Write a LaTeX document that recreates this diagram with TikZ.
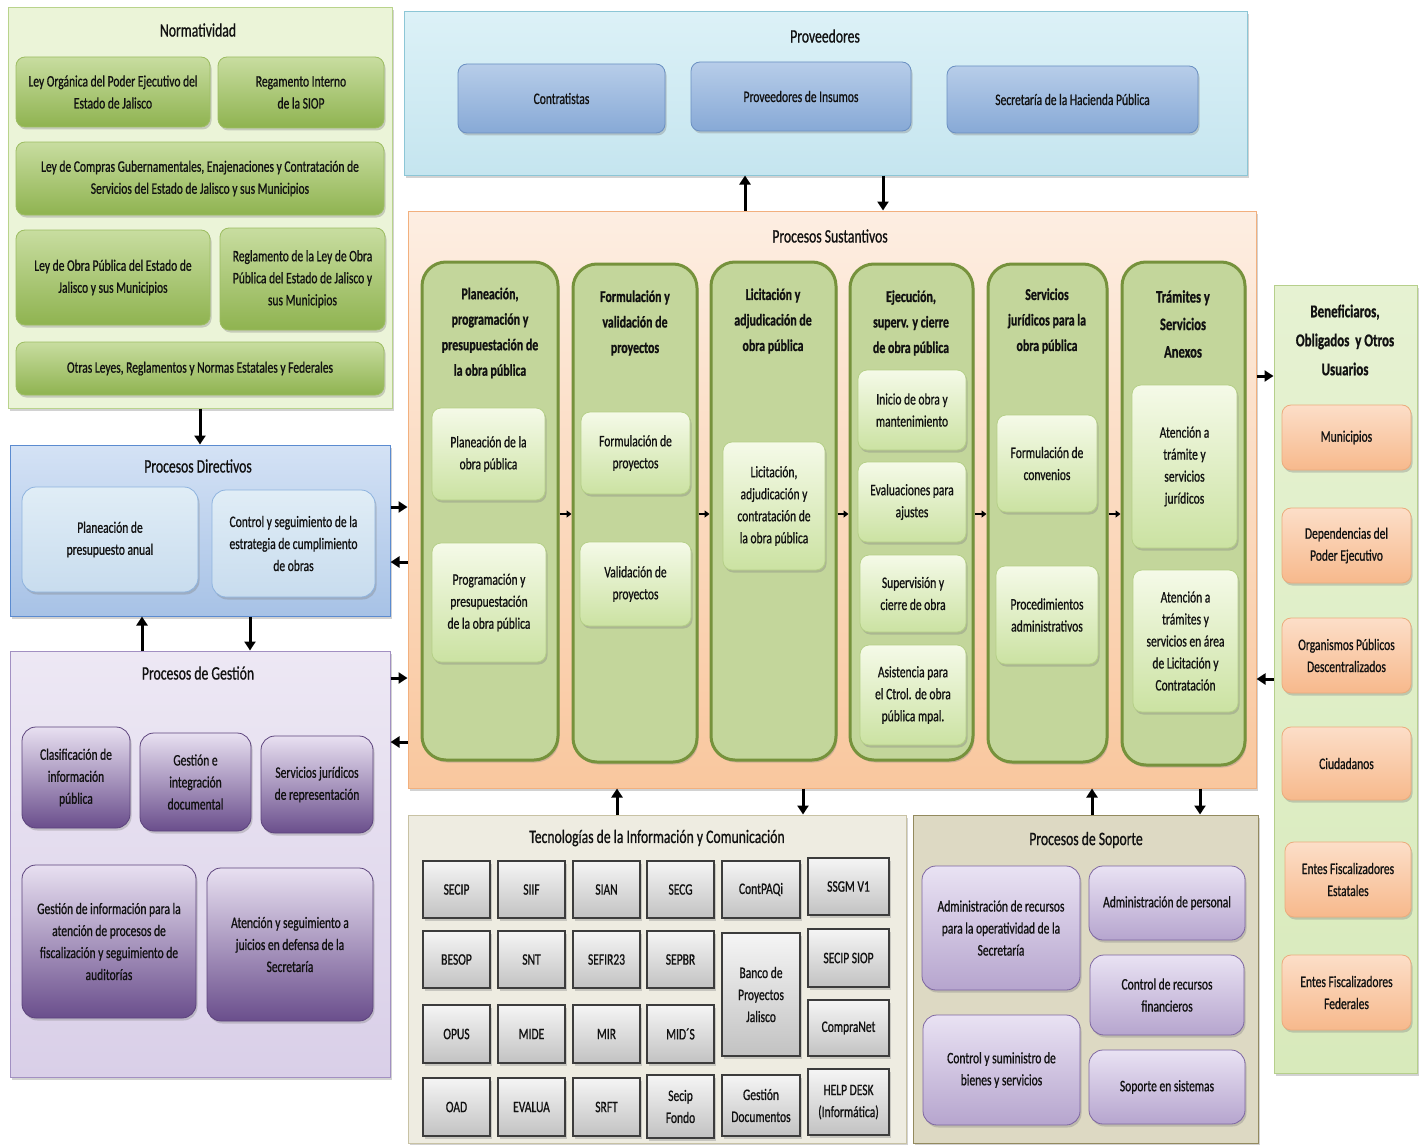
\documentclass[tikz,border=0pt]{standalone}
\usepackage{fontspec}
\setmainfont{Carlito}[FakeStretch=0.72, FakeBold=0.8]
\usetikzlibrary{shadows,arrows.meta}
\definecolor{nOut}{HTML}{EBF4D8}\definecolor{nOutD}{HTML}{B9D38C}
\definecolor{gT}{HTML}{C8DDA0}\definecolor{gB}{HTML}{8FB350}\definecolor{gD}{HTML}{9DBD62}
\definecolor{pOutT}{HTML}{DCF1F7}\definecolor{pOutB}{HTML}{C5E5EF}\definecolor{pOutD}{HTML}{8CC6D6}
\definecolor{blT}{HTML}{B7CDE9}\definecolor{blB}{HTML}{87A9D6}\definecolor{blD}{HTML}{6A8FC2}
\definecolor{sOutT}{HTML}{FDEEE2}\definecolor{sOutB}{HTML}{F9C79E}\definecolor{sOutD}{HTML}{F2B07E}
\definecolor{colF}{HTML}{C3D69B}\definecolor{colD}{HTML}{76923C}
\definecolor{ciT}{HTML}{F5FAE8}\definecolor{ciB}{HTML}{CBE2A2}\definecolor{ciD}{HTML}{B5CF87}
\definecolor{dOutT}{HTML}{D4E2F5}\definecolor{dOutB}{HTML}{A7C2E6}\definecolor{dOutD}{HTML}{5B8BD0}
\definecolor{diT}{HTML}{E0EDF6}\definecolor{diB}{HTML}{C8DCEE}\definecolor{diD}{HTML}{8EB3DE}
\definecolor{mOutT}{HTML}{EDE8F4}\definecolor{mOutB}{HTML}{D9CFE8}\definecolor{mOutD}{HTML}{A290C2}
\definecolor{miT}{HTML}{E8E0F1}\definecolor{miB}{HTML}{6A4E8C}\definecolor{miD}{HTML}{5C437C}
\definecolor{tOut}{HTML}{EEECE1}\definecolor{tOutD}{HTML}{C8C2A4}
\definecolor{tbT}{HTML}{F5F5F5}\definecolor{tbB}{HTML}{C2C2C2}\definecolor{tbD}{HTML}{3C3C3C}
\definecolor{soOut}{HTML}{DDD9C3}\definecolor{soOutD}{HTML}{938A5E}
\definecolor{soT}{HTML}{E9E2F3}\definecolor{soB}{HTML}{B6A5CE}\definecolor{soD}{HTML}{7D66A1}
\definecolor{bOutT}{HTML}{E6F2D2}\definecolor{bOutB}{HTML}{D8EABB}\definecolor{bOutD}{HTML}{B6CF8B}
\definecolor{orT}{HTML}{FCDEC8}\definecolor{orB}{HTML}{F7B98C}\definecolor{orD}{HTML}{EBAB7C}
\definecolor{txt}{HTML}{111111}
\newcommand\bodyf{\fontsize{16}{22}\selectfont}
\newcommand\titf{\fontsize{19}{24}\selectfont}
\newcommand\colf{\bfseries\fontsize{16.5}{25.5}\selectfont}
\newcommand\mybox[7]{\node[#2, minimum width={#5-#3}, minimum height={#6-#4}] (#1) at ({(#3+#5)/2},{(#4+#6)/2}) {#7};}
\tikzset{
  shad/.style={drop shadow={shadow xshift=1.5pt, shadow yshift=-2.5pt, opacity=0.35}},
  base/.style={align=center, inner sep=1pt, font=\bodyf, text=txt},
  outN/.style={draw=nOutD, fill=nOut, line width=1pt, shad},
  outP/.style={draw=pOutD, top color=pOutT, bottom color=pOutB, line width=1pt, shad},
  outS/.style={draw=sOutD, top color=sOutT, bottom color=sOutB, line width=1pt, shad},
  outD/.style={draw=dOutD, top color=dOutT, bottom color=dOutB, line width=1pt, shad},
  outM/.style={draw=mOutD, top color=mOutT, bottom color=mOutB, line width=1pt, shad},
  outT/.style={draw=tOutD, fill=tOut, line width=1pt, shad},
  outSo/.style={draw=soOutD, fill=soOut, line width=1pt, shad},
  outB/.style={draw=bOutD, top color=bOutT, bottom color=bOutB, line width=1pt, shad},
  grn/.style={base, rounded corners=9pt, draw=gD, top color=gT, bottom color=gB, line width=0.8pt, shad},
  blu/.style={base, rounded corners=9pt, draw=blD, top color=blT, bottom color=blB, line width=0.8pt, shad},
  colbox/.style={rounded corners=24pt, draw=colD, fill=colF, line width=3pt, shad},
  cin/.style={base, rounded corners=9pt, draw=ciD, top color=ciT, bottom color=ciB, line width=0.8pt, shad},
  dbox/.style={base, rounded corners=14pt, draw=diD, top color=diT, bottom color=diB, line width=0.8pt, shad},
  mbox/.style={base, rounded corners=14pt, draw=miD, top color=miT, bottom color=miB, line width=0.8pt, shad},
  tbox/.style={base, draw=tbD, top color=tbT, bottom color=tbB, line width=1.2pt, shad},
  sobox/.style={base, rounded corners=14pt, draw=soD, top color=soT, bottom color=soB, line width=0.8pt, shad},
  obox/.style={base, rounded corners=9pt, draw=orD, top color=orT, bottom color=orB, line width=0.8pt, shad},
  tit/.style={font=\titf, text=txt, inner sep=1pt, align=center},
  coltit/.style={font=\colf, text=txt, inner sep=1pt, align=center},
  arr/.style={line width=3pt, -{Triangle[length=9pt,width=11pt]}},
  sarr/.style={line width=2pt, -{Triangle[length=5pt,width=7pt]}}
}
\begin{document}
\begin{tikzpicture}[x=1pt,y=-1pt]
\useasboundingbox[fill=white] (0,0) rectangle (1426,1145);
% outer frames
\mybox{norm}{outN}{8}{8}{392}{408}{}
\mybox{prov}{outP}{404}{12}{1247}{175}{}
\mybox{sust}{outS}{408}{211}{1256}{788}{}
\mybox{dir}{outD}{10}{445}{390}{616}{}
\mybox{ges}{outM}{10}{651}{390}{1077}{}
\mybox{tic}{outT}{408}{815}{906}{1143}{}
\mybox{sop}{outSo}{913}{815}{1258}{1143}{}
\mybox{ben}{outB}{1274}{285}{1417}{1073}{}
% titles
\node[tit] (normT) at (198,30) {Normatividad};
\node[tit] (provT) at (825,36) {Proveedores};
\node[tit] (sustT) at (830,236) {Procesos Sustantivos};
\node[tit] (dirT) at (198,466) {Procesos Directivos};
\node[tit] (gesT) at (198,673) {Procesos de Gestión};
\node[tit] (ticT) at (657,838) {Tecnologías\ de la Información\ y Comunicación};
\node[tit] (sopT) at (1086,840) {Procesos de Soporte};
\node[tit, font=\bfseries\fontsize{18}{29}\selectfont] (benT) at (1345,340) {Beneficiaros,\\Obligados\ \ y Otros\\Usuarios};
% Normatividad
\mybox{n1}{grn}{16}{57}{210}{127}{Ley Orgánica del Poder Ejecutivo del\\Estado de Jalisco}
\mybox{n2}{grn}{218}{57}{384}{128}{Regamento Interno\\de la SIOP}
\mybox{n3}{grn}{16}{142}{384}{215}{Ley de Compras Gubernamentales, Enajenaciones y Contratación de\\Servicios del Estado de Jalisco y sus Municipios}
\mybox{n4}{grn}{16}{230}{210}{325}{Ley de Obra Pública del Estado de\\Jalisco y sus Municipios}
\mybox{n5}{grn}{220}{228}{385}{330}{Reglamento de la Ley de Obra\\Pública del Estado de Jalisco y\\sus Municipios}
\mybox{n6}{grn}{16}{342}{384}{395}{Otras Leyes, Reglamentos y Normas Estatales y Federales}
% Proveedores
\mybox{p1}{blu}{458}{64}{665}{133}{Contratistas}
\mybox{p2}{blu}{691}{62}{911}{131}{Proveedores de Insumos}
\mybox{p3}{blu}{947}{66}{1198}{133}{Secretaría de la Hacienda Pública}
% Directivos
\mybox{d1}{dbox}{22}{487}{198}{592}{Planeación de\\presupuesto anual}
\mybox{d2}{dbox}{212}{490}{375}{597}{Control y seguimiento de la\\estrategia de cumplimiento\\de obras}
% Gestion
\mybox{g1}{mbox}{22}{727}{130}{828}{Clasificación de\\información\\pública}
\mybox{g2}{mbox}{140}{733}{251}{831}{Gestión e\\integración\\documental}
\mybox{g3}{mbox}{261}{736}{373}{833}{Servicios jurídicos\\de representación}
\mybox{g4}{mbox}{22}{865}{196}{1018}{Gestión de información para la\\atención de procesos de\\fiscalización y seguimiento de\\auditorías}
\mybox{g5}{mbox}{207}{868}{373}{1021}{Atención y seguimiento a\\juicios en defensa de la\\Secretaría}
% Sustantivos columns
\mybox{c1}{colbox}{422}{262}{558}{760}{}
\mybox{c2}{colbox}{573}{264}{697}{762}{}
\mybox{c3}{colbox}{711}{262}{836}{760}{}
\mybox{c4}{colbox}{850}{264}{973}{760}{}
\mybox{c5}{colbox}{988}{264}{1107}{762}{}
\mybox{c6}{colbox}{1122}{262}{1245}{765}{}
\node[coltit] (c1T) at (490,333) {Planeación,\\programación y\\presupuestación de\\la obra pública};
\node[coltit] (c2T) at (635,323) {Formulación y\\validación de\\proyectos};
\node[coltit] (c3T) at (773,321) {Licitación y\\adjudicación de\\obra pública};
\node[coltit] (c4T) at (911,323) {Ejecución,\\superv. y cierre\\de obra pública};
\node[coltit] (c5T) at (1047,321) {Servicios\\jurídicos para la\\obra pública};
\node[coltit, font=\bfseries\fontsize{17.5}{27.5}\selectfont] (c6T) at (1183,324) {Trámites y\\Servicios\\Anexos};
\mybox{c1a}{cin}{432}{408}{545}{500}{Planeación de la\\obra pública}
\mybox{c1b}{cin}{432}{543}{546}{662}{Programación y\\presupuestación\\de la obra pública}
\mybox{c2a}{cin}{581}{412}{690}{494}{Formulación de\\proyectos}
\mybox{c2b}{cin}{580}{542}{691}{626}{Validación de\\proyectos}
\mybox{c3a}{cin}{723}{442}{825}{570}{Licitación,\\adjudicación y\\contratación de\\la obra pública}
\mybox{c4a}{cin}{858}{370}{966}{450}{Inicio de obra y\\mantenimiento}
\mybox{c4b}{cin}{858}{462}{966}{542}{Evaluaciones para\\ajustes}
\mybox{c4c}{cin}{860}{555}{966}{632}{Supervisión y\\cierre de obra}
\mybox{c4d}{cin}{860}{645}{966}{745}{Asistencia para\\el Ctrol. de obra\\pública mpal.}
\mybox{c5a}{cin}{997}{415}{1097}{512}{Formulación de\\convenios}
\mybox{c5b}{cin}{996}{566}{1098}{664}{Procedimientos\\administrativos}
\mybox{c6a}{cin}{1132}{385}{1237}{548}{Atención a\\trámite y\\servicios\\jurídicos}
\mybox{c6b}{cin}{1133}{570}{1238}{712}{Atención a\\trámites y\\servicios en área\\de Licitación y\\Contratación}
% Beneficiarios
\mybox{b1}{obox}{1282}{405}{1411}{470}{Municipios}
\mybox{b2}{obox}{1282}{508}{1411}{583}{Dependencias del\\Poder Ejecutivo}
\mybox{b3}{obox}{1282}{618}{1411}{693}{Organismos Públicos\\Descentralizados}
\mybox{b4}{obox}{1282}{727}{1411}{800}{Ciudadanos}
\mybox{b5}{obox}{1285}{842}{1411}{917}{Entes Fiscalizadores\\Estatales}
\mybox{b6}{obox}{1282}{955}{1411}{1030}{Entes Fiscalizadores\\Federales}
% TIC
\mybox{t11}{tbox}{423}{861}{490}{918}{SECIP}
\mybox{t12}{tbox}{498}{861}{565}{918}{SIIF}
\mybox{t13}{tbox}{573}{861}{640}{918}{SIAN}
\mybox{t14}{tbox}{647}{861}{714}{918}{SECG}
\mybox{t15}{tbox}{722}{861}{800}{918}{ContPAQi}
\mybox{t16}{tbox}{808}{858}{889}{915}{SSGM V1}
\mybox{t21}{tbox}{423}{931}{490}{988}{BESOP}
\mybox{t22}{tbox}{498}{931}{565}{988}{SNT}
\mybox{t23}{tbox}{573}{931}{640}{988}{SEFIR23}
\mybox{t24}{tbox}{647}{931}{714}{988}{SEPBR}
\mybox{t25}{tbox}{722}{933}{800}{1056}{Banco de\\Proyectos\\Jalisco}
\mybox{t26}{tbox}{808}{929}{889}{987}{SECIP SIOP}
\mybox{t31}{tbox}{423}{1005}{490}{1063}{OPUS}
\mybox{t32}{tbox}{498}{1005}{565}{1063}{MIDE}
\mybox{t33}{tbox}{573}{1005}{640}{1063}{MIR}
\mybox{t34}{tbox}{647}{1005}{714}{1063}{MID´S}
\mybox{t36}{tbox}{808}{1000}{889}{1056}{CompraNet}
\mybox{t41}{tbox}{423}{1078}{490}{1136}{OAD}
\mybox{t42}{tbox}{498}{1078}{565}{1136}{EVALUA}
\mybox{t43}{tbox}{573}{1078}{640}{1136}{SRFT}
\mybox{t44}{tbox}{647}{1075}{714}{1138}{Secip\\Fondo}
\mybox{t45}{tbox}{722}{1075}{800}{1136}{Gestión\\Documentos}
\mybox{t46}{tbox}{808}{1069}{889}{1135}{HELP DESK\\(Informática)}
% Soporte
\mybox{s1}{sobox}{922}{866}{1080}{990}{Administración de recursos\\para la operatividad de la\\Secretaría}
\mybox{s2}{sobox}{1089}{866}{1245}{940}{Administración de personal}
\mybox{s3}{sobox}{1090}{955}{1244}{1035}{Control de recursos\\financieros}
\mybox{s4}{sobox}{923}{1015}{1080}{1125}{Control y suministro de\\bienes y servicios}
\mybox{s5}{sobox}{1089}{1050}{1245}{1124}{Soporte en sistemas}
% connectors
\draw[arr] (norm.south) -- (dir.north);
\draw[arr] (ges.north -| 142,0) -- (dir.south -| 142,0);
\draw[arr] (dir.south -| 250,0) -- (ges.north -| 250,0);
\draw[arr] (dir.east |- 0,507) -- (sust.west |- 0,507);
\draw[arr] (sust.west |- 0,562) -- (dir.east |- 0,562);
\draw[arr] (ges.east |- 0,678) -- (sust.west |- 0,678);
\draw[arr] (sust.west |- 0,742) -- (ges.east |- 0,742);
\draw[arr] (sust.north -| 745,0) -- (prov.south -| 745,0);
\draw[arr] (prov.south -| 883,0) -- (sust.north -| 883,0);
\draw[arr] (sust.east |- 0,376) -- (ben.west |- 0,376);
\draw[arr] (ben.west |- 0,679) -- (sust.east |- 0,679);
\draw[arr] (tic.north -| 617,0) -- (sust.south -| 617,0);
\draw[arr] (sust.south -| 803,0) -- (tic.north -| 803,0);
\draw[arr] (sop.north -| 1092,0) -- (sust.south -| 1092,0);
\draw[arr] (sust.south -| 1200,0) -- (sop.north -| 1200,0);
\draw[sarr] (c1.east |- 0,514) -- (c2.west |- 0,514);
\draw[sarr] (c2.east |- 0,514) -- (c3.west |- 0,514);
\draw[sarr] (c3.east |- 0,514) -- (c4.west |- 0,514);
\draw[sarr] (c4.east |- 0,514) -- (c5.west |- 0,514);
\draw[sarr] (c5.east |- 0,514) -- (c6.west |- 0,514);
\end{tikzpicture}
\end{document}
